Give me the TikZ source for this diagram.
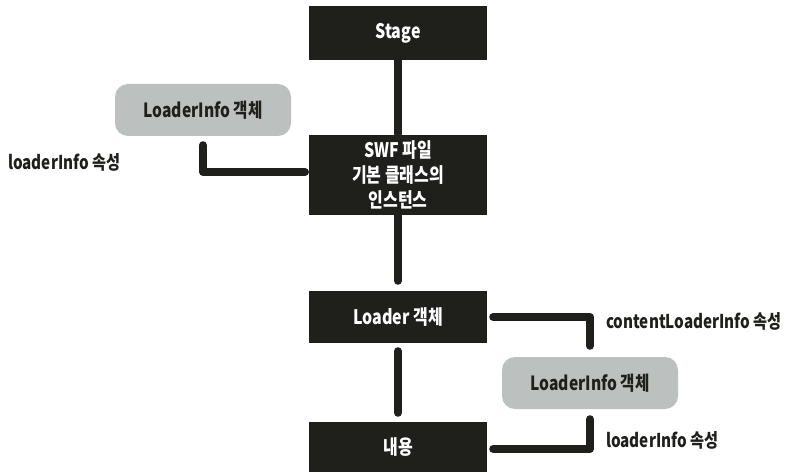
\documentclass[tikz,border=0pt]{standalone}
\usepackage{fontspec}
\setmainfont{Noto Sans CJK KR}[FakeStretch=0.8]
\definecolor{boxdark}{HTML}{1F201C}
\definecolor{boxgray}{HTML}{BCC0BF}
\definecolor{linedark}{HTML}{1F1F1C}
\begin{document}
\begin{tikzpicture}[x=1pt,y=-1pt,
  darkbox/.style={fill=boxdark,text=white,minimum width=178pt,inner sep=0pt,align=center,font=\fontsize{20}{25}\selectfont\bfseries},
  graybox/.style={fill=boxgray,text=boxdark,rounded corners=13pt,minimum width=176pt,minimum height=52pt,inner sep=0pt,font=\fontsize{19.5}{24}\selectfont\bfseries},
  lbl/.style={anchor=west,text=boxdark,inner sep=0pt,font=\fontsize{19}{22}\selectfont\bfseries},
  conn/.style={draw=linedark,line width=8pt,line cap=round,line join=round}]
\useasboundingbox (0,0) rectangle (786,473);
\node[darkbox,minimum height=54pt] (stage) at (398,33) {Stage};
\node[darkbox,minimum height=80pt] (swf) at (398,175) {SWF 파일\\기본 클래스의\\인스턴스};
\node[darkbox,minimum height=52pt] (loader) at (398,317) {Loader 객체};
\node[darkbox,minimum height=50pt] (content) at (398,447) {내용};
\node[graybox] (info1) at (203,110) {LoaderInfo 객체};
\node[graybox] (info2) at (590,383) {LoaderInfo 객체};
\node[lbl] (l1) at (8,162) {loaderInfo 속성};
\node[lbl] (l2) at (606,321) {contentLoaderInfo 속성};
\node[lbl] (l3) at (606,440) {loaderInfo 속성};
\coordinate (c1) at (305,172);
\draw[conn,shorten >=1pt] (stage.south) -- (swf.north);
\draw[conn,shorten >=10pt] (swf.south) -- (loader.north);
\draw[conn,shorten <=8pt,shorten >=9pt] (loader.south) -- (content.north);
\draw[conn,shorten <=9pt] (info1.south) |- (c1);
\draw[conn,shorten <=6pt,shorten >=11pt] (loader.east) -| (info2.north);
\draw[conn,shorten <=10pt,shorten >=6pt] (info2.south) |- ([yshift=-2pt]content.east);
\end{tikzpicture}
\end{document}
